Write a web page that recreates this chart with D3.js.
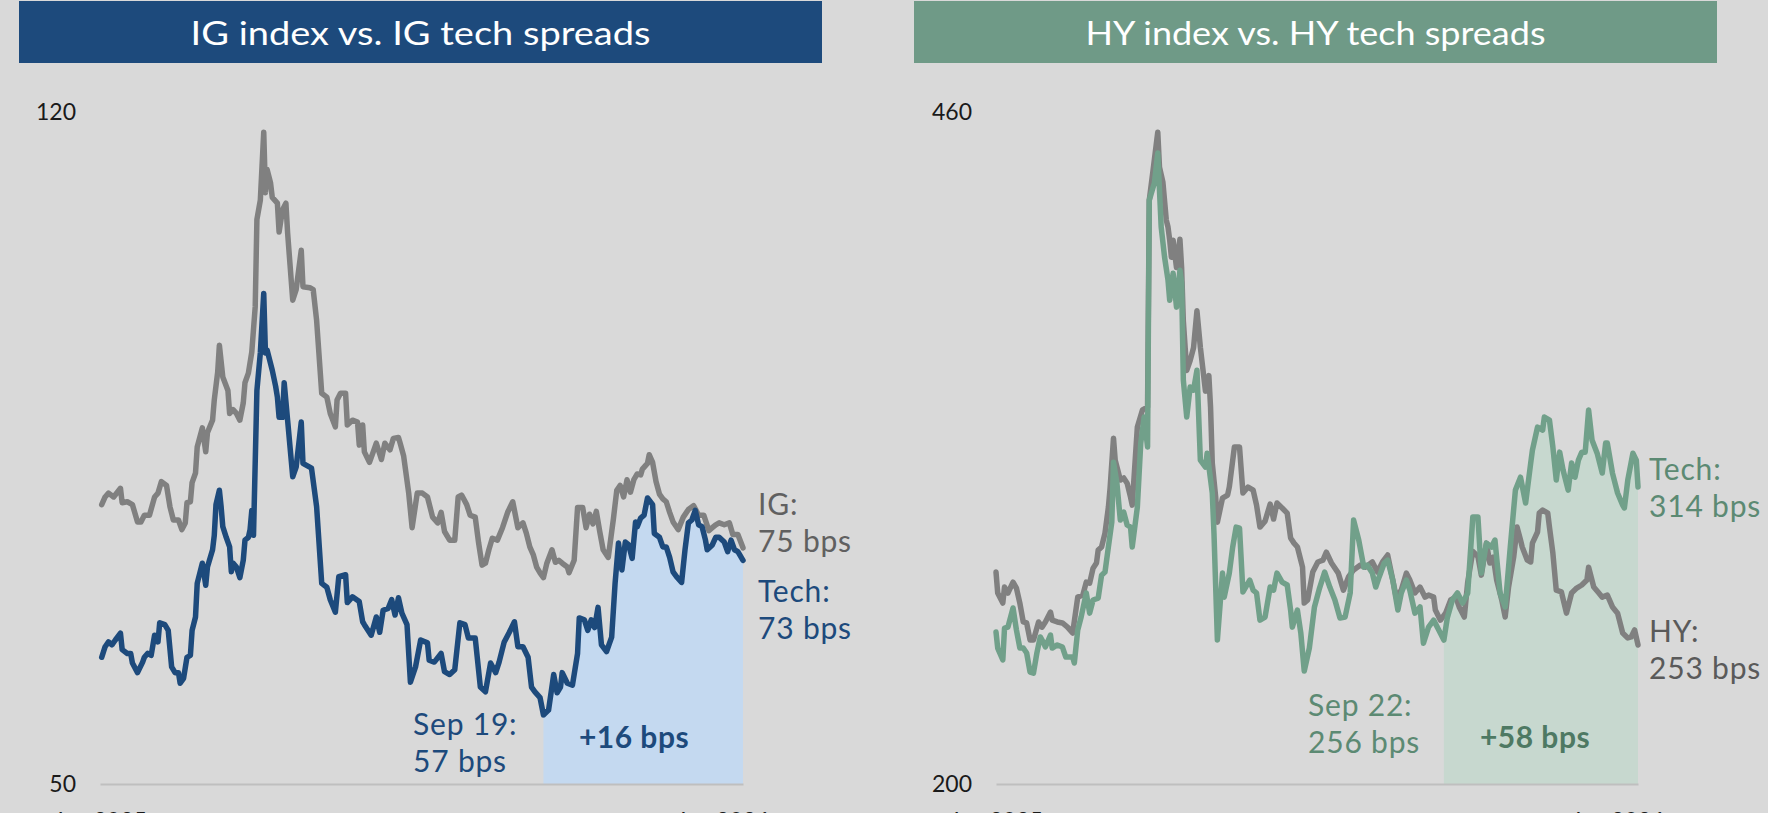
<!DOCTYPE html>
<html>
<head>
<meta charset="utf-8">
<script src="https://d3js.org/d3.v7.min.js"></script>
<style>
body { margin: 0; background-color: #d9d9d9; }
svg { display: block; font-family: Lato, 'Open Sans', sans-serif; }
</style>
</head>
<body>

<svg id='chart'></svg>

<script>
// ---- data (bps) ----
var igDates = [
	'2025-01-03','2025-01-05','2025-01-07','2025-01-10','2025-01-14','2025-01-15','2025-01-18','2025-01-21','2025-01-24','2025-01-26','2025-01-28','2025-01-31',
	'2025-02-03','2025-02-05','2025-02-07','2025-02-10','2025-02-12','2025-02-14','2025-02-17','2025-02-19','2025-02-21','2025-02-22','2025-02-24','2025-02-25','2025-02-27','2025-02-28',
	'2025-03-03','2025-03-05','2025-03-06','2025-03-09','2025-03-10','2025-03-12','2025-03-13','2025-03-15','2025-03-18','2025-03-19','2025-03-21','2025-03-23','2025-03-25','2025-03-27','2025-03-28','2025-03-30',
	'2025-04-01','2025-04-03','2025-04-04','2025-04-06','2025-04-08','2025-04-09','2025-04-10','2025-04-12','2025-04-13','2025-04-16','2025-04-17','2025-04-19','2025-04-21','2025-04-22','2025-04-25','2025-04-27','2025-04-30',
	'2025-05-01','2025-05-05','2025-05-07','2025-05-09','2025-05-12','2025-05-15','2025-05-17','2025-05-20','2025-05-21','2025-05-23','2025-05-26','2025-05-27','2025-05-30',
	'2025-06-02','2025-06-03','2025-06-05','2025-06-06','2025-06-09','2025-06-11','2025-06-13','2025-06-16','2025-06-18','2025-06-21','2025-06-23','2025-06-26','2025-06-27','2025-06-29',
	'2025-07-02','2025-07-04','2025-07-07','2025-07-10','2025-07-13','2025-07-16','2025-07-19','2025-07-21','2025-07-23','2025-07-26','2025-07-29','2025-07-31',
	'2025-08-02','2025-08-05','2025-08-07','2025-08-10','2025-08-12','2025-08-14','2025-08-16','2025-08-18','2025-08-20','2025-08-23','2025-08-26','2025-08-29',
	'2025-09-01','2025-09-02','2025-09-04','2025-09-07','2025-09-09','2025-09-11','2025-09-13','2025-09-15','2025-09-17','2025-09-19','2025-09-21','2025-09-24','2025-09-26','2025-09-28','2025-09-30',
	'2025-10-03','2025-10-04','2025-10-07','2025-10-09','2025-10-12','2025-10-14','2025-10-16','2025-10-18','2025-10-20','2025-10-22','2025-10-24','2025-10-27','2025-10-30',
	'2025-11-01','2025-11-03','2025-11-05','2025-11-07','2025-11-09','2025-11-11','2025-11-13','2025-11-15','2025-11-16','2025-11-19','2025-11-20','2025-11-22','2025-11-24','2025-11-26','2025-11-28','2025-11-30',
	'2025-12-02','2025-12-04','2025-12-07','2025-12-10','2025-12-13','2025-12-16','2025-12-19','2025-12-22','2025-12-25','2025-12-27','2025-12-29','2025-12-31',
	'2026-01-03','2026-01-06','2026-01-08','2026-01-11','2026-01-14'
];
var igValues = [
	79.1,79.9,80.3,79.9,80.8,79.3,79.4,79.1,77.3,77.3,78.0,78.0,
	79.9,80.3,81.5,81.1,78.9,77.5,77.5,76.5,77.2,79.3,79.4,81.4,82.4,85.1,
	87.1,84.6,86.6,87.9,90.0,92.9,95.7,92.4,91.0,88.6,89.0,88.6,87.9,89.7,91.8,92.8,
	95.0,99.7,108.8,110.8,117.9,111.6,114.0,112.6,111.1,110.5,107.5,109.8,110.5,107.4,100.4,101.5,105.6,
	101.8,101.7,101.5,98.3,90.7,90.3,88.6,87.2,90.0,90.7,90.7,87.4,87.9,
	87.7,85.3,87.4,84.6,83.5,84.5,85.5,83.8,85.5,84.8,86.0,86.1,85.5,84.2,
	80.3,76.7,80.3,80.3,79.9,77.8,77.2,78.3,76.3,75.4,75.4,79.9,
	80.1,79.1,78.0,77.8,75.1,72.8,73.0,74.4,75.6,75.4,76.7,78.3,
	79.4,78.5,76.7,77.2,76.1,74.7,73.9,72.6,72.0,71.5,73.0,74.4,73.1,73.3,73.0,
	72.6,72.0,73.3,78.8,78.8,76.7,78.1,77.1,78.4,76.3,74.4,73.6,77.6,
	80.6,81.1,79.9,81.7,80.4,81.7,82.3,82.2,82.8,83.4,84.3,83.5,81.5,80.2,79.7,79.4,
	78.3,77.3,76.5,77.8,78.6,79.0,78.0,78.0,76.4,76.7,77.0,77.2,
	77.0,77.2,76.0,76.0,74.6
];

var igTechDates = [
	'2025-01-03','2025-01-05','2025-01-07','2025-01-09','2025-01-11','2025-01-14','2025-01-15','2025-01-18','2025-01-20','2025-01-21','2025-01-24','2025-01-27','2025-01-28','2025-01-30',
	'2025-02-01','2025-02-03','2025-02-05','2025-02-06','2025-02-09','2025-02-11','2025-02-13','2025-02-15','2025-02-17','2025-02-18','2025-02-20','2025-02-22','2025-02-24','2025-02-25','2025-02-27','2025-02-28',
	'2025-03-02','2025-03-03','2025-03-05','2025-03-06','2025-03-09','2025-03-10','2025-03-11','2025-03-13','2025-03-14','2025-03-15','2025-03-17','2025-03-19','2025-03-20','2025-03-21','2025-03-23','2025-03-25','2025-03-27','2025-03-28','2025-03-30','2025-03-31',
	'2025-04-01','2025-04-02','2025-04-04','2025-04-06','2025-04-08','2025-04-09','2025-04-10','2025-04-13','2025-04-15','2025-04-16','2025-04-17','2025-04-19','2025-04-20','2025-04-22','2025-04-25','2025-04-27','2025-04-30',
	'2025-05-01','2025-05-06','2025-05-09','2025-05-12','2025-05-15','2025-05-17','2025-05-20','2025-05-22','2025-05-26','2025-05-27','2025-05-30',
	'2025-06-03','2025-06-05','2025-06-06','2025-06-10','2025-06-13','2025-06-15','2025-06-17','2025-06-20','2025-06-22','2025-06-24','2025-06-26','2025-06-28',
	'2025-07-01','2025-07-03','2025-07-06','2025-07-09','2025-07-13','2025-07-14','2025-07-17','2025-07-21','2025-07-23','2025-07-26','2025-07-29',
	'2025-08-01','2025-08-04','2025-08-06','2025-08-10','2025-08-13','2025-08-16','2025-08-19','2025-08-22','2025-08-24','2025-08-27','2025-08-30',
	'2025-09-02','2025-09-04','2025-09-07','2025-09-10','2025-09-12','2025-09-14','2025-09-17','2025-09-19','2025-09-22','2025-09-25','2025-09-27','2025-09-29','2025-09-30',
	'2025-10-03','2025-10-06','2025-10-09','2025-10-10','2025-10-13','2025-10-15','2025-10-17','2025-10-19','2025-10-21','2025-10-23','2025-10-26','2025-10-29','2025-10-31',
	'2025-11-02','2025-11-04','2025-11-06','2025-11-08','2025-11-10','2025-11-12','2025-11-13','2025-11-15','2025-11-17','2025-11-19','2025-11-22','2025-11-23','2025-11-26','2025-11-28','2025-11-30',
	'2025-12-02','2025-12-04','2025-12-06','2025-12-09','2025-12-11','2025-12-13','2025-12-15','2025-12-17','2025-12-19','2025-12-21','2025-12-23','2025-12-24','2025-12-27','2025-12-29','2025-12-31',
	'2026-01-03','2026-01-05','2026-01-07','2026-01-09','2026-01-11','2026-01-14'
];
var igTechValues = [
	63.2,64.3,64.8,64.5,65.0,65.7,64.0,63.6,63.6,62.6,61.6,62.7,63.2,63.6,
	63.4,65.5,64.8,66.8,66.6,66.0,62.2,61.6,61.6,60.5,61.0,63.2,63.4,66.0,67.4,70.9,
	72.3,73.0,70.7,72.6,74.4,75.9,79.1,80.6,78.9,76.8,75.7,74.7,72.1,73.0,72.6,71.5,73.3,75.4,75.7,76.5,
	78.5,75.9,91.0,94.9,101.1,94.9,95.2,93.1,91.4,90.3,88.2,88.2,91.8,87.9,82.0,83.0,87.7,
	83.4,82.9,78.9,70.9,70.5,69.2,67.9,71.6,71.8,68.9,69.5,
	69.0,66.9,66.6,65.5,67.4,65.8,68.1,68.3,69.2,67.6,69.4,67.8,
	66.6,60.6,62.2,65.0,64.7,62.9,62.7,63.6,61.7,61.4,61.9,
	66.8,66.6,65.2,65.2,60.1,59.6,62.6,61.6,62.7,64.8,65.8,
	66.9,64.3,64.3,63.2,60.1,59.6,59.0,57.2,57.7,61.4,59.5,60.1,61.6,
	60.5,60.3,63.6,67.3,67.1,66.0,67.1,66.3,68.4,64.5,63.8,65.3,70.9,
	75.1,72.3,75.2,74.9,73.5,77.3,76.8,77.7,78.0,79.8,79.1,76.1,75.7,74.7,74.7,
	73.6,72.1,71.6,71.0,74.4,77.2,77.5,78.5,77.0,76.8,75.4,74.4,74.9,75.7,75.7,
	75.2,74.2,75.4,74.4,74.2,73.3
];

var hyDates = [
	'2025-01-02','2025-01-03','2025-01-06','2025-01-07','2025-01-09','2025-01-12','2025-01-14','2025-01-16','2025-01-18','2025-01-20','2025-01-22','2025-01-24','2025-01-27','2025-01-29','2025-01-31',
	'2025-02-03','2025-02-04','2025-02-07','2025-02-10','2025-02-13','2025-02-16','2025-02-19','2025-02-22','2025-02-24','2025-02-26','2025-02-28',
	'2025-03-02','2025-03-03','2025-03-05','2025-03-07','2025-03-09','2025-03-10','2025-03-12','2025-03-13','2025-03-16','2025-03-18','2025-03-20','2025-03-22','2025-03-23','2025-03-26','2025-03-29',
	'2025-04-01','2025-04-02','2025-04-04','2025-04-07','2025-04-08','2025-04-10','2025-04-12','2025-04-13','2025-04-14','2025-04-15','2025-04-16','2025-04-18','2025-04-20','2025-04-21','2025-04-22','2025-04-24','2025-04-26','2025-04-28','2025-04-30',
	'2025-05-02','2025-05-05','2025-05-07','2025-05-08','2025-05-09','2025-05-11','2025-05-12','2025-05-15','2025-05-18','2025-05-19','2025-05-22','2025-05-25','2025-05-27','2025-05-30',
	'2025-06-02','2025-06-04','2025-06-06','2025-06-09','2025-06-12','2025-06-14','2025-06-16','2025-06-19','2025-06-22','2025-06-24','2025-06-26','2025-06-28',
	'2025-07-01','2025-07-02','2025-07-04','2025-07-07','2025-07-10','2025-07-13','2025-07-15','2025-07-18','2025-07-22','2025-07-25','2025-07-28','2025-07-31',
	'2025-08-04','2025-08-07','2025-08-11','2025-08-14','2025-08-17','2025-08-20','2025-08-23','2025-08-25','2025-08-28','2025-08-31',
	'2025-09-02','2025-09-05','2025-09-08','2025-09-11','2025-09-13','2025-09-16','2025-09-17','2025-09-20','2025-09-23','2025-09-26','2025-09-29',
	'2025-10-01','2025-10-04','2025-10-06','2025-10-09','2025-10-12','2025-10-14','2025-10-17','2025-10-19','2025-10-21','2025-10-23','2025-10-26','2025-10-28','2025-10-30',
	'2025-11-02','2025-11-04','2025-11-06','2025-11-07','2025-11-10','2025-11-12','2025-11-13','2025-11-16','2025-11-17','2025-11-19','2025-11-22','2025-11-23','2025-11-25','2025-11-27','2025-11-30',
	'2025-12-03','2025-12-06','2025-12-09','2025-12-12','2025-12-15','2025-12-16','2025-12-19','2025-12-22','2025-12-24','2025-12-27','2025-12-30',
	'2026-01-02','2026-01-05','2026-01-08','2026-01-10','2026-01-12','2026-01-14'
];
var hyValues = [
	282.0,273.9,270.0,276.2,273.9,278.1,275.8,270.0,262.7,262.3,255.7,255.7,262.7,260.7,262.7,
	266.5,263.4,262.7,262.3,260.7,258.4,272.3,273.1,278.1,277.7,283.5,
	285.5,290.5,291.7,297.1,307.1,314.5,333.8,325.3,317.6,318.4,316.4,311.0,307.9,338.1,344.7,
	345.8,425.9,436.3,452.2,438.7,432.9,418.2,415.5,410.4,403.8,410.4,399.8,410.8,399.8,379.3,360.0,363.8,368.8,383.1,
	369.0,352.0,358.0,345.6,324.2,311.0,301.3,310.6,311.8,314.9,330.4,330.4,312.6,314.9,
	313.7,307.9,299.4,301.7,308.3,302.5,308.7,306.8,304.8,295.2,293.2,291.7,
	283.9,270.0,271.2,282.0,285.9,286.6,289.7,285.5,281.6,275.0,280.1,282.8,
	284.7,283.9,285.9,282.0,285.9,288.6,278.9,272.3,275.0,281.6,
	278.9,273.9,276.2,272.3,273.1,272.3,267.3,263.4,266.1,271.2,272.3,
	268.5,264.6,278.1,290.0,288.0,280.8,293.2,285.5,287.8,278.9,271.2,264.6,276.2,
	287.8,299.4,294.4,291.7,286.6,285.9,293.2,297.5,304.8,306.0,304.8,299.4,289.4,275.0,274.3,
	266.1,273.9,275.8,277.0,278.9,283.9,276.2,273.9,272.3,273.1,268.5,
	266.1,258.4,256.5,256.9,259.6,253.8
];

var hyTechDates = [
	'2025-01-02','2025-01-03','2025-01-06','2025-01-07','2025-01-09','2025-01-12','2025-01-14','2025-01-16','2025-01-18','2025-01-20','2025-01-22','2025-01-24','2025-01-26','2025-01-28','2025-01-30','2025-01-31',
	'2025-02-03','2025-02-04','2025-02-07','2025-02-10','2025-02-12','2025-02-16','2025-02-17','2025-02-19','2025-02-21','2025-02-24','2025-02-26','2025-02-28',
	'2025-03-03','2025-03-05','2025-03-07','2025-03-09','2025-03-11','2025-03-12','2025-03-14','2025-03-16','2025-03-18','2025-03-20','2025-03-22','2025-03-23','2025-03-26','2025-03-28','2025-03-30',
	'2025-04-01','2025-04-02','2025-04-05','2025-04-07','2025-04-08','2025-04-09','2025-04-11','2025-04-13','2025-04-14','2025-04-16','2025-04-18','2025-04-20','2025-04-21','2025-04-22','2025-04-24','2025-04-26','2025-04-28','2025-04-30',
	'2025-05-02','2025-05-05','2025-05-06','2025-05-09','2025-05-10','2025-05-12','2025-05-15','2025-05-16','2025-05-19','2025-05-21','2025-05-23','2025-05-25','2025-05-27','2025-05-31',
	'2025-06-02','2025-06-04','2025-06-06','2025-06-09','2025-06-12','2025-06-14','2025-06-16','2025-06-19','2025-06-22','2025-06-24','2025-06-25','2025-06-28','2025-06-30',
	'2025-07-02','2025-07-05','2025-07-08','2025-07-11','2025-07-14','2025-07-17','2025-07-20','2025-07-23','2025-07-26','2025-07-29','2025-07-31',
	'2025-08-03','2025-08-06','2025-08-08','2025-08-11','2025-08-13','2025-08-15','2025-08-18','2025-08-20','2025-08-23','2025-08-26','2025-08-28','2025-08-31',
	'2025-09-02','2025-09-05','2025-09-08','2025-09-10','2025-09-13','2025-09-16','2025-09-19','2025-09-22','2025-09-24','2025-09-27','2025-09-30',
	'2025-10-03','2025-10-06','2025-10-09','2025-10-12','2025-10-14','2025-10-17','2025-10-20','2025-10-22','2025-10-25','2025-10-28','2025-10-31',
	'2025-11-03','2025-11-06','2025-11-09','2025-11-12','2025-11-13','2025-11-16','2025-11-19','2025-11-20','2025-11-23','2025-11-25','2025-11-27','2025-11-29',
	'2025-12-01','2025-12-04','2025-12-06','2025-12-08','2025-12-10','2025-12-12','2025-12-14','2025-12-16','2025-12-18','2025-12-21','2025-12-24','2025-12-26','2025-12-27','2025-12-30',
	'2026-01-02','2026-01-05','2026-01-06','2026-01-08','2026-01-11','2026-01-13','2026-01-14'
];
var hyTechValues = [
	258.8,252.6,248.0,260.3,260.7,268.1,259.6,252.6,252.6,250.7,243.3,242.9,250.7,256.9,254.5,253.0,
	257.6,252.6,253.8,253.0,249.1,249.1,246.8,259.6,264.6,273.9,266.1,271.2,
	271.9,280.8,282.0,291.7,301.3,324.5,316.4,302.1,305.2,300.2,299.4,291.7,307.1,331.9,342.0,
	330.4,425.9,432.5,444.1,429.8,415.5,403.8,395.0,387.2,397.6,384.5,398.8,393.8,356.3,342.0,353.6,352.4,360.1,
	325.3,322.6,328.0,312.6,297.1,255.7,281.6,272.3,281.6,291.7,299.4,299.0,274.3,278.9,
	275.0,273.9,263.4,264.6,276.2,275.0,281.6,278.1,277.0,267.3,260.7,267.3,258.4,
	243.7,252.6,268.5,275.8,282.0,276.2,271.2,264.2,264.6,273.9,302.1,
	294.4,283.9,284.7,281.6,276.2,280.1,285.5,286.6,278.9,267.3,273.9,278.9,
	275.0,266.1,268.5,254.5,260.7,263.4,259.6,255.7,264.2,271.2,273.9,
	270.0,273.9,303.3,303.3,281.6,293.2,291.7,294.4,273.9,268.5,291.7,
	313.7,318.7,308.7,324.2,329.2,338.1,336.9,342.0,340.8,330.4,317.6,328.4,
	321.5,313.7,324.2,318.7,325.3,328.4,328.4,344.7,333.1,328.0,320.3,331.9,331.9,320.3,
	312.6,307.9,306.8,317.6,328.0,325.3,314.9
];

var xDomain = ['2025-01-02', '2026-01-14'];
var xTicks = ['2025-01-02', '2026-01-02'];
var igAxis = [50, 120];
var hyAxis = [200, 460];

var titles = ['IG index vs. IG tech spreads', 'HY index vs. HY tech spreads'];
var shadeStart = ['2025-09-19', '2025-09-22'];
var indexLabels = [['IG:', '75 bps'], ['HY:', '253 bps']];
var techLabels = [['Tech:', '73 bps'], ['Tech:', '314 bps']];
var startLabels = [['Sep 19:', '57 bps'], ['Sep 22:', '256 bps']];
var changeLabels = ['+16 bps', '+58 bps'];

// ---- layout ----
var dims = {
	width: 1768,
	height: 813,
	top: 112,
	bottom: 784,
	lineWidth: 5.5,
	lineHeight: 37,
	noteSize: 30,
	noteSpacing: 0.8
};

var parseDate = d3.timeParse('%Y-%m-%d');

function zip(dates, values) {
	return dates.map((d, i) => ({ date: parseDate(d), value: values[i] }));
}

var panels = [
	{
		bar: [19, 822], plot: [100, 743], yDomain: igAxis,
		index: zip(igDates, igValues), tech: zip(igTechDates, igTechValues),
		barColor: '#1d4a7c', techColor: '#1d4a7c', techText: '#1d4a7c', changeText: '#1d4a7c',
		indexColor: '#808080', indexText: '#606060', shadeColor: '#c4d9f0',
		endX: 758, indexY: 515, techY: 602, startX: 413, startY: 735, changeX: 634
	},
	{
		bar: [914, 1717], plot: [996, 1638], yDomain: hyAxis,
		index: zip(hyDates, hyValues), tech: zip(hyTechDates, hyTechValues),
		barColor: '#6f9a87', techColor: '#71a08a', techText: '#5c8a73', changeText: '#4e7963',
		indexColor: '#808080', indexText: '#5a5a5a', shadeColor: '#c7d8cf',
		endX: 1649, indexY: 642, techY: 480, startX: 1308, startY: 716, changeX: 1535
	}
];

var svg = d3.select('#chart')
	.attr('width', dims.width)
	.attr('height', dims.height);

svg.append('rect')
	.attr('width', '100%')
	.attr('height', '100%')
	.attr('fill', '#d9d9d9');

function twoLines(g, x, y, lines, color) {
	var t = g.append('text')
		.attr('x', x)
		.attr('y', y)
		.attr('fill', color)
		.attr('font-size', dims.noteSize)
		.attr('letter-spacing', dims.noteSpacing);
	lines.forEach((s, i) => {
		t.append('tspan')
			.attr('x', x)
			.attr('dy', i == 0 ? 0 : dims.lineHeight)
			.text(s);
	});
	return t;
}

panels.forEach(function(p, k) {
	var g = svg.append('g');

	var x = d3.scaleTime()
		.domain(xDomain.map(parseDate))
		.range(p.plot);
	var y = d3.scaleLinear()
		.domain(p.yDomain)
		.range([dims.bottom, dims.top]);

	// title bar
	g.append('rect')
		.attr('x', p.bar[0])
		.attr('y', 1)
		.attr('width', p.bar[1] - p.bar[0])
		.attr('height', 62)
		.attr('fill', p.barColor);
	g.append('text')
		.attr('x', (p.bar[0] + p.bar[1]) / 2)
		.attr('y', 45)
		.attr('text-anchor', 'middle')
		.attr('fill', 'white')
		.attr('font-size', 33)
		.attr('textLength', 460)
		.attr('lengthAdjust', 'spacingAndGlyphs')
		.text(titles[k]);

	// shaded change since the low
	var from = parseDate(shadeStart[k]);
	var shade = p.tech.filter(d => d.date >= from);
	g.append('path')
		.datum(shade)
		.attr('fill', p.shadeColor)
		.attr('d', d3.area()
			.x(d => x(d.date))
			.y0(y(p.yDomain[0]))
			.y1(d => y(d.value)));

	// axes
	var yAxis = g.append('g')
		.attr('transform', 'translate(' + p.plot[0] + ' 0)')
		.call(d3.axisLeft(y).tickValues(p.yDomain).tickSize(0).tickPadding(24));
	yAxis.select('.domain').remove();

	var xAxis = g.append('g')
		.attr('transform', 'translate(0 ' + dims.bottom + ')')
		.call(d3.axisBottom(x)
			.tickValues(xTicks.map(parseDate))
			.tickFormat(d3.timeFormat('%b %Y'))
			.tickSize(0)
			.tickSizeOuter(0)
			.tickPadding(29));
	xAxis.select('.domain')
		.attr('stroke', '#bfbfbf')
		.attr('stroke-width', 2);

	svg.selectAll('.tick text')
		.attr('font-family', 'Lato, sans-serif')
		.attr('font-size', 23)
		.attr('fill', '#1a1a1a');

	// series
	var line = d3.line()
		.x(d => x(d.date))
		.y(d => y(d.value));

	g.append('path')
		.datum(p.index)
		.attr('fill', 'none')
		.attr('stroke', p.indexColor)
		.attr('stroke-width', dims.lineWidth)
		.attr('stroke-linejoin', 'round')
		.attr('stroke-linecap', 'round')
		.attr('d', line);

	g.append('path')
		.datum(p.tech)
		.attr('fill', 'none')
		.attr('stroke', p.techColor)
		.attr('stroke-width', dims.lineWidth)
		.attr('stroke-linejoin', 'round')
		.attr('stroke-linecap', 'round')
		.attr('d', line);

	// annotations
	twoLines(g, p.endX, p.indexY, indexLabels[k], p.indexText);
	twoLines(g, p.endX, p.techY, techLabels[k], p.techText);
	twoLines(g, p.startX, p.startY, startLabels[k], p.techText);

	g.append('text')
		.attr('x', p.changeX)
		.attr('y', 748)
		.attr('text-anchor', 'middle')
		.attr('fill', p.changeText)
		.attr('font-size', dims.noteSize)
		.attr('letter-spacing', 0.5)
		.attr('font-weight', 700)
		.text(changeLabels[k]);
});

</script>

</body>
</html>
